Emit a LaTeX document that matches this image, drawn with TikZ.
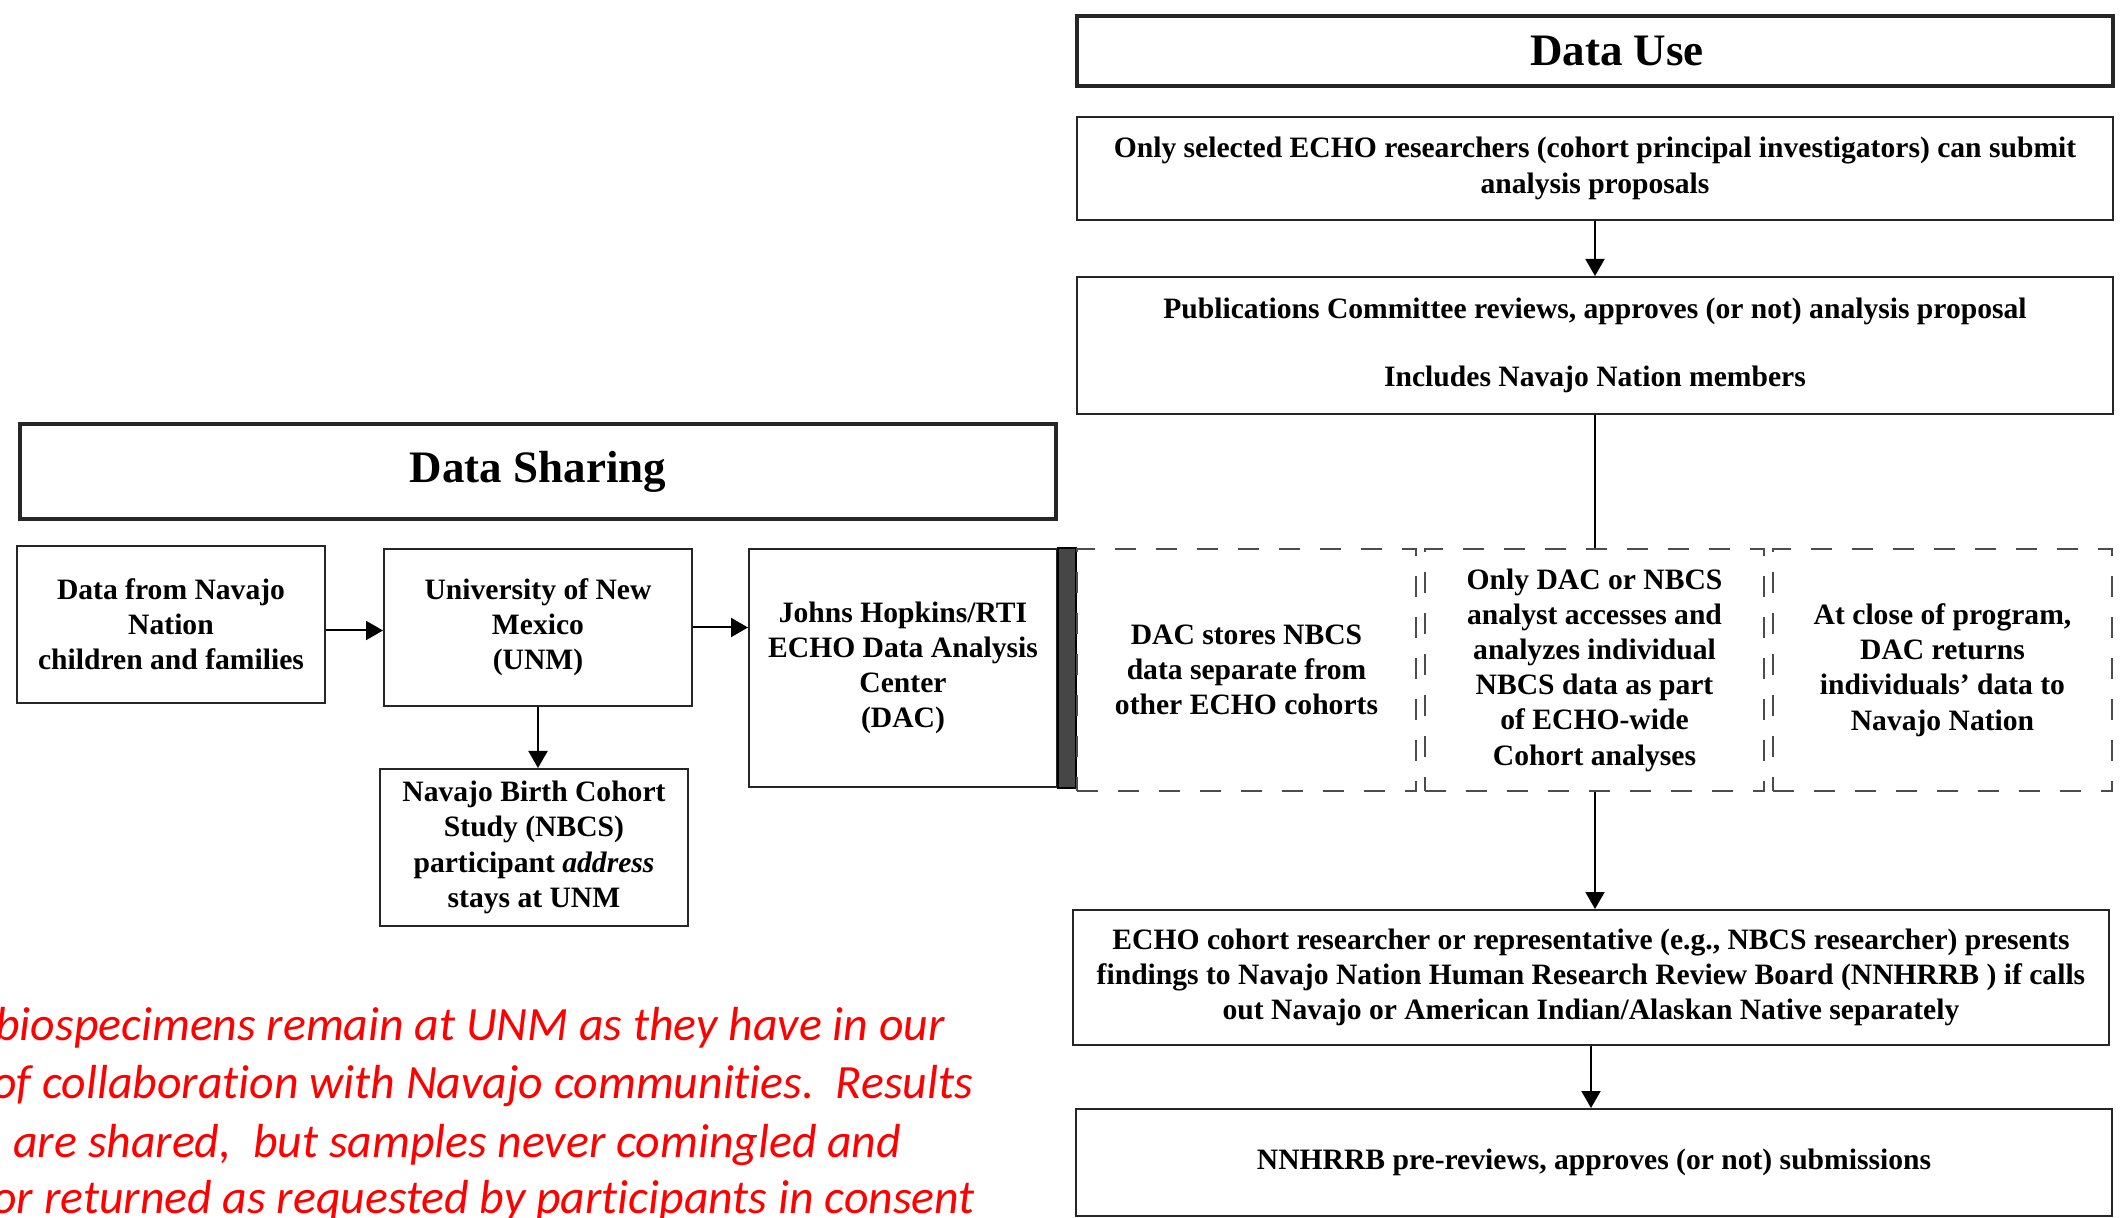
\documentclass[tikz,border=0pt]{standalone}
\usepackage{fontspec}
\setmainfont{Liberation Serif}
\newfontfamily\notefont[Ligatures=NoCommon]{Carlito}
\usepackage{tikz}
\usetikzlibrary{positioning,arrows.meta,calc}

\begin{document}
\begin{tikzpicture}[
  x=1pt, y=1pt,
  font=\fontsize{14.8}{17.6}\selectfont\bfseries,
  box/.style={draw=black!85, line width=1pt, align=center, inner sep=3pt, fill=white},
  head/.style={box, line width=2pt, minimum width=518pt,
               font=\fontsize{22.5}{27}\selectfont\bfseries},
  wide/.style={box, minimum width=518pt},
  small/.style={box, minimum width=154pt, minimum height=78.5pt},
  dbox/.style={box, draw=black!70, dash pattern=on 10.5pt off 10pt,
               minimum width=169.5pt, minimum height=121pt},
  note/.style={anchor=base west, inner sep=0pt, text=red,
               font=\notefont\itshape\fontsize{23.9}{28}\selectfont},
  arr/.style={-{Triangle[length=8.5pt, width=9.5pt]}, line width=1pt}]

\useasboundingbox[fill=white] (0,0) rectangle (1063,-609);
\clip (0,0) rectangle (1063,-609);

% Right: data use.
\node[head, minimum height=35pt, anchor=north west] (use) at (537.5,-7) {\hspace*{22pt}Data Use};
\node[wide, minimum height=51.5pt, below=14pt of use] (sel)
  {Only selected ECHO researchers (cohort principal investigators) can submit\\analysis proposals};
\node[wide, minimum height=68.5pt, below=27.5pt of sel] (pub)
  {Publications Committee reviews, approves (or not) analysis proposal\\[16.6pt]Includes Navajo Nation members};
\draw[arr] (sel) -- (pub);

% Left: data sharing.
\node[head, minimum height=47.5pt, anchor=north west] (share) at (9,-211) {Data Sharing};
\node[box, minimum width=154pt, minimum height=119pt, anchor=north west] (dac) at (374,-274)
  {Johns Hopkins/RTI\\ECHO Data Analysis\\Center\\(DAC)};
\filldraw[gray!55!black, draw=black, line width=0.6pt] (dac.north east) rectangle ([xshift=9pt]dac.south east);
\node[small, anchor=north east] (unm) at ([xshift=-27.5pt]dac.north west)
  {University of New\\Mexico\\(UNM)};
\node[small, left=28.5pt of unm, yshift=1.5pt] (nav)
  {Data from Navajo\\Nation\\children and families};
\node[small, below=30.5pt of unm, xshift=-2pt] (nbcs)
  {Navajo Birth Cohort\\Study (NBCS)\\participant \textit{address}\\stays at UNM};
\draw[arr] ([yshift=-3pt]nav.east) -- ([yshift=-3pt]nav.east -| unm.west);
\draw[arr] (unm.east) -- (unm.east -| dac.west);
\draw[arr] (unm.south) -- (unm.south |- nbcs.north);

% Dashed row at the DAC.
\node[dbox, anchor=north west] (sto) at ([xshift=9pt]dac.north east)
  {DAC stores NBCS\\data separate from\\other ECHO cohorts};
\node[dbox, right=3.5pt of sto] (ana)
  {Only DAC or NBCS\\analyst accesses and\\analyzes individual\\NBCS data as part\\of ECHO-wide\\Cohort analyses};
\node[dbox, right=3.5pt of ana] (ret)
  {At close of program,\\DAC returns\\individuals’ data to\\Navajo Nation};
\draw[line width=1pt] (pub) -- (pub |- ana.north);

\node[wide, minimum height=67.5pt, anchor=north] (pres) at ([xshift=-2pt,yshift=-58.5pt]ana.south -| pub.south)
  {ECHO cohort researcher or representative (e.g., NBCS researcher) presents\\findings to Navajo Nation Human Research Review Board (NNHRRB ) if calls\\out Navajo or American Indian/Alaskan Native separately};
\node[wide, minimum height=53.5pt, below=31pt of pres, xshift=1.5pt] (nnh)
  {NNHRRB pre-reviews, approves (or not) submissions};
\draw[arr] (pub |- ana.south) -- (pub |- pres.north);
\draw[arr] (pres.south) -- (pres.south |- nnh.north);

% Red note, cut at the left edge.
\node[note] (n1) at (-2.5,-520) {biospecimens remain at UNM as they have in our};
\node[note] (n2) at (-4,-549) {of collaboration with Navajo communities.\ \ Results};
\node[note] (n3) at (6.5,-578.5) {are shared,\ \ but samples never comingled and};
\node[note] (n4) at (-4,-606.5) {or returned as requested by participants in consent};
\end{tikzpicture}
\end{document}
